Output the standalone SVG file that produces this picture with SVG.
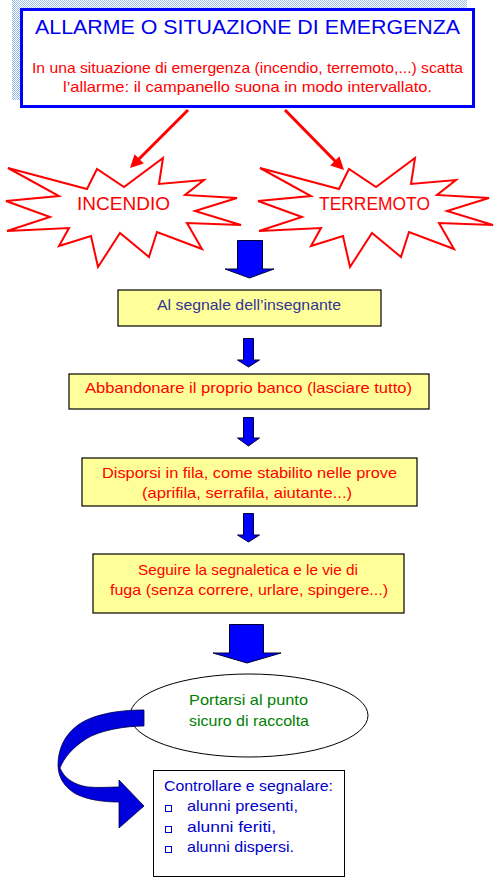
<svg xmlns="http://www.w3.org/2000/svg" width="498" height="879" viewBox="0 0 498 879">
<style>
text{font-family:"Liberation Sans",Arial,sans-serif;text-anchor:middle}
.red{fill:#ff0000;font-size:15px}
.star{fill:#ffffff;stroke:#ff0000;stroke-width:2;stroke-linejoin:miter}
.ybox{fill:#ffff99;stroke:#000000;stroke-width:1.2}
.blk{fill:#0000ff;stroke:#000033;stroke-width:1}
.rline{stroke:#ff0000;stroke-width:3}
.rhead{fill:#ff0000}
.blue{fill:#0000cc;font-size:15px;text-anchor:start}
</style>
<defs>
<pattern id="dots" width="2" height="2" patternUnits="userSpaceOnUse">
<rect width="2" height="2" fill="#ffffff"/>
<rect width="1" height="1" fill="#99bbee"/>
<rect x="1" y="1" width="1" height="1" fill="#99bbee"/>
</pattern>
<polygon id="starShape" points="8,168 87,189 97,169 124,187 163,158 159,184 204,180 185,195 237,198 195,211 241,225 187,223 202,249 157,232 149,257 120,233 98,267 91,236 59,246 69,228 7,231 50,217 6,201 59,196"/>
</defs>
<rect width="498" height="879" fill="#ffffff"/>

<g id="alarm">
<rect x="12" y="0" width="455" height="100" fill="url(#dots)"/>
<rect x="21.5" y="9.5" width="452" height="97" fill="#ffffff" stroke="#0000ff" stroke-width="3"/>
<text x="247.5" y="34" style="font-size:20px;fill:#0000ee" textLength="425" lengthAdjust="spacingAndGlyphs">ALLARME O SITUAZIONE DI EMERGENZA</text>
<text class="red" x="247.5" y="73" textLength="431" lengthAdjust="spacingAndGlyphs">In una situazione di emergenza (incendio, terremoto,...) scatta</text>
<text class="red" x="247.5" y="92" textLength="369" lengthAdjust="spacingAndGlyphs">l’allarme: il campanello suona in modo intervallato.</text>
</g>

<g id="incendio">
<use href="#starShape" class="star"/>
<text x="123.5" y="210" style="font-size:18px;fill:#ff0000" textLength="93" lengthAdjust="spacingAndGlyphs">INCENDIO</text>
</g>

<g id="terremoto">
<use href="#starShape" class="star" transform="translate(252,0)"/>
<text x="374.5" y="210" style="font-size:18px;fill:#ff0000" textLength="111" lengthAdjust="spacingAndGlyphs">TERREMOTO</text>
</g>

<g id="segnale">
<rect class="ybox" x="118" y="290" width="263" height="36"/>
<text x="249" y="310" style="font-size:15px;fill:#333399" textLength="184" lengthAdjust="spacingAndGlyphs">Al segnale dell’insegnante</text>
</g>

<g id="abbandonare">
<rect class="ybox" x="69" y="374" width="360" height="35"/>
<text class="red" x="248.5" y="393" textLength="327" lengthAdjust="spacingAndGlyphs">Abbandonare il proprio banco (lasciare tutto)</text>
</g>

<g id="disporsi">
<rect class="ybox" x="82" y="458" width="335" height="48"/>
<text class="red" x="249.5" y="478" textLength="295" lengthAdjust="spacingAndGlyphs">Disporsi in fila, come stabilito nelle prove</text>
<text class="red" x="247" y="498" textLength="210" lengthAdjust="spacingAndGlyphs">(aprifila, serrafila, aiutante...)</text>
</g>

<g id="seguire">
<rect class="ybox" x="93" y="554" width="311" height="59"/>
<text class="red" x="248" y="575" textLength="220" lengthAdjust="spacingAndGlyphs">Seguire la segnaletica e le vie di</text>
<text class="red" x="249" y="595" textLength="278" lengthAdjust="spacingAndGlyphs">fuga (senza correre, urlare, spingere...)</text>
</g>

<g id="raccolta">
<ellipse cx="249" cy="715.5" rx="119" ry="41.5" fill="#ffffff" stroke="#000000" stroke-width="1"/>
<text x="248.5" y="705" style="font-size:15px;fill:#008000" textLength="119" lengthAdjust="spacingAndGlyphs">Portarsi al punto</text>
<text x="249" y="726" style="font-size:15px;fill:#008000" textLength="120" lengthAdjust="spacingAndGlyphs">sicuro di raccolta</text>
</g>

<g id="controllare">
<rect x="153.5" y="770.5" width="191" height="106" fill="#ffffff" stroke="#000000" stroke-width="1"/>
<text class="blue" x="164" y="791" textLength="169" lengthAdjust="spacingAndGlyphs">Controllare e segnalare:</text>
<rect x="165.5" y="805.5" width="6" height="6" fill="none" stroke="#0000cc" stroke-width="1"/>
<rect x="165.5" y="826.5" width="6" height="6" fill="none" stroke="#0000cc" stroke-width="1"/>
<rect x="165.5" y="846.5" width="6" height="6" fill="none" stroke="#0000cc" stroke-width="1"/>
<text class="blue" x="187" y="811" textLength="111" lengthAdjust="spacingAndGlyphs">alunni presenti,</text>
<text class="blue" x="187" y="832" textLength="89" lengthAdjust="spacingAndGlyphs">alunni feriti,</text>
<text class="blue" x="187" y="852" textLength="107" lengthAdjust="spacingAndGlyphs">alunni dispersi.</text>
</g>

<g id="connectors">
<line class="rline" x1="188" y1="110" x2="138" y2="160"/>
<polygon class="rhead" points="130,168 134.6,154.2 143.8,163.4"/>
<line class="rline" x1="285" y1="110" x2="336" y2="162"/>
<polygon class="rhead" points="344,170 330.2,165.4 339.4,156.2"/>
<polygon class="blk" points="237.5,240.5 262.5,240.5 262.5,269 274,269 249.5,278 225,269 237.5,269"/>
<polygon class="blk" points="243.5,338.5 253.5,338.5 253.5,360 259.5,360 248.5,367 237.5,360 243.5,360"/>
<polygon class="blk" points="243.5,417.5 253.5,417.5 253.5,438 259.5,438 248.5,446 237.5,438 243.5,438"/>
<polygon class="blk" points="243.5,513.5 253.5,513.5 253.5,535 259.5,535 248.5,542 237.5,535 243.5,535"/>
<polygon class="blk" points="229.5,624.5 263.5,624.5 263.5,653 281,653 247,663 213,653 229.5,653"/>
<path d="M144,710 L144,726 C126,726 100,730 86,739 C72,748 64,758 60,768 C64,778 74,785 88,787 C98,788 110,787 119,787 L119,780 L144,806 L119,828 L119,802 C104,802 88,800 76,794 C64,787 58,777 58,765 C58,750 64,735 78,725 C92,715 116,710 144,710 Z" fill="#0000dd" stroke="#000044" stroke-width="0.8"/>
</g>
</svg>
